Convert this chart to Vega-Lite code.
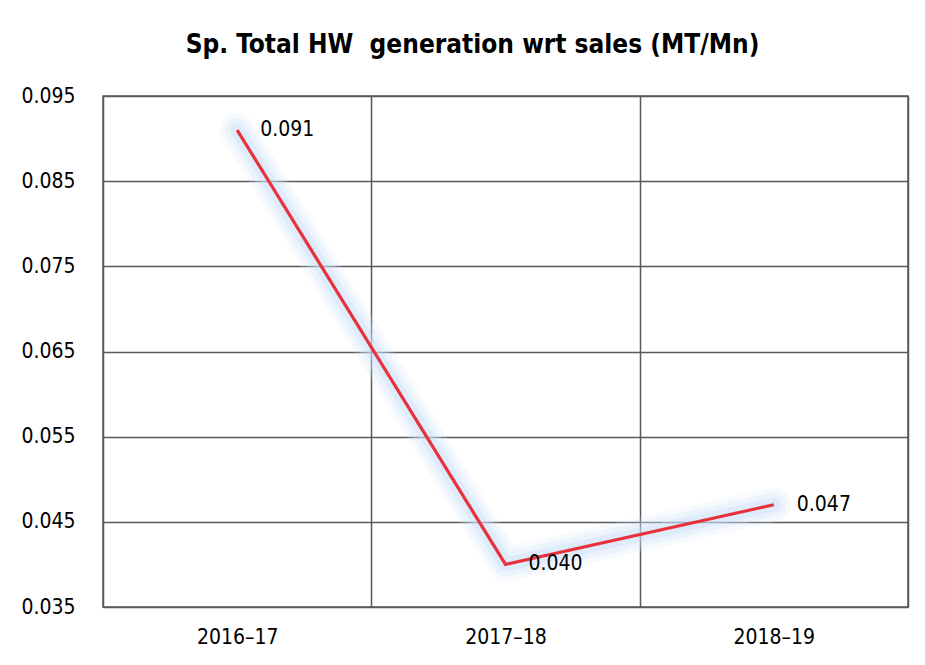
{
  "$schema": "https://vega.github.io/schema/vega-lite/v6.json",
  "autosize": "none",
  "width": 805,
  "height": 511,
  "padding": {"left": 103, "top": 96, "right": 17, "bottom": 58},
  "background": "white",
  "title": {
    "text": "Sp. Total HW\u00a0 generation wrt sales (MT/Mn)",
    "font": "DejaVu Sans Condensed, sans-serif",
    "fontSize": 26,
    "fontWeight": "bold",
    "color": "#000000",
    "anchor": "middle",
    "dx": -33,
    "offset": 27
  },
  "config": {
    "font": "DejaVu Sans Condensed, sans-serif",
    "view": {"stroke": "#595959", "strokeWidth": 1.5}
  },
  "data": {
    "values": [
      {"year": "2016–17", "value": 0.091, "label": "0.091"},
      {"year": "2017–18", "value": 0.040, "label": "0.040"},
      {"year": "2018–19", "value": 0.047, "label": "0.047"}
    ]
  },
  "encoding": {
    "x": {
      "field": "year",
      "type": "nominal",
      "sort": null,
      "scale": {"paddingInner": 0, "paddingOuter": 0},
      "axis": {
        "title": null,
        "labelAngle": 0,
        "labelFontSize": 21,
        "labelColor": "#000000",
        "labelPadding": 19,
        "ticks": false,
        "domain": false,
        "grid": true,
        "tickBand": "extent",
        "gridColor": "#595959",
        "gridWidth": 1.5,
        "gridOpacity": 1
      }
    },
    "y": {
      "field": "value",
      "type": "quantitative",
      "scale": {"domain": [0.035, 0.095], "nice": false, "zero": false},
      "axis": {
        "title": null,
        "values": [0.035, 0.045, 0.055, 0.065, 0.075, 0.085, 0.095],
        "format": ".3f",
        "labelFontSize": 21,
        "labelColor": "#000000",
        "labelPadding": 28,
        "ticks": false,
        "domain": false,
        "gridColor": "#595959",
        "gridWidth": 1.5,
        "gridOpacity": 1
      }
    }
  },
  "layer": [
    {
      "mark": {"type": "line", "color": "#d4e6fa", "strokeWidth": 34, "opacity": 0.22, "strokeCap": "round", "strokeJoin": "round"}
    },
    {
      "mark": {"type": "line", "color": "#cfe3f8", "strokeWidth": 24, "opacity": 0.28, "strokeCap": "round", "strokeJoin": "round"}
    },
    {
      "mark": {"type": "line", "color": "#c2dcf6", "strokeWidth": 14, "opacity": 0.35, "strokeCap": "round", "strokeJoin": "round"}
    },
    {
      "mark": {"type": "line", "color": "#e8313c", "strokeWidth": 3.2}
    },
    {
      "mark": {"type": "text", "align": "left", "baseline": "middle", "dx": 23, "fontSize": 21, "color": "#000000"},
      "encoding": {"text": {"field": "label"}}
    }
  ]
}
